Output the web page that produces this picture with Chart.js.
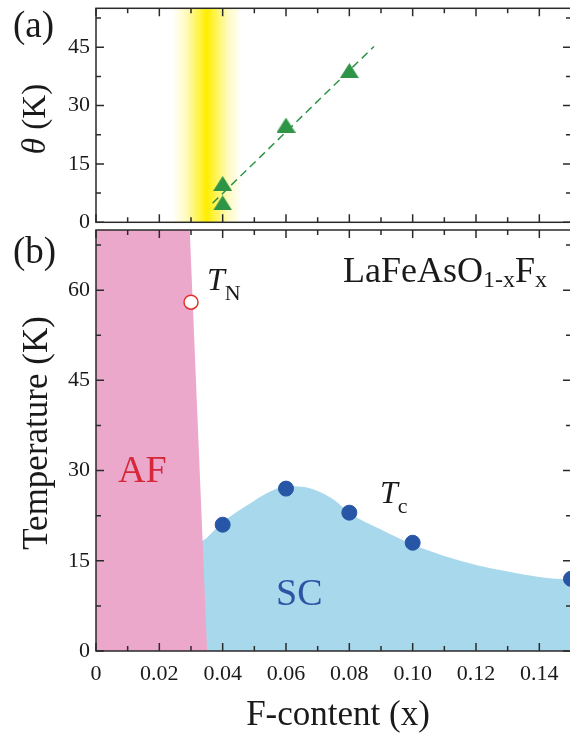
<!DOCTYPE html>
<html>
<head>
<meta charset="utf-8">
<script src="https://cdn.jsdelivr.net/npm/chart.js@4.4.1/dist/chart.umd.min.js"></script>
<style>
  html, body { margin: 0; padding: 0; background: #fff; overflow: hidden; }
  #wrap { position: relative; width: 570px; height: 736px; overflow: hidden; }
  #thetaChart { position: absolute; left: 0; top: 0; }
  #phaseChart { position: absolute; left: 0; top: 226px; }
</style>
</head>
<body>
<div id="wrap">
  <canvas id="thetaChart" width="574" height="236"></canvas>
  <canvas id="phaseChart" width="574" height="510"></canvas>
</div>
<script>
// ---- data ----
// (a) Weiss temperature theta vs F content
const thetaX = [0.04, 0.04, 0.06, 0.08];
const thetaValues = [10, 5, 25, 39];
const thetaFitX = [0.0368, 0.0878];
const thetaFitY = [4.9, 45.2];
const bandCenter = 0.035;
const bandHalfWidth = 0.011;

// (b) phase diagram
const tcX = [0.04, 0.06, 0.08, 0.10, 0.15];
const tcValues = [21, 27, 23, 18, 12];
const tnX = [0.03];
const tnValues = [58];
const afEdgeX = [0, 0.0296, 0.0351];
const afEdgeT = [70, 70, 0];
const scEdgeX = [0.033, 0.0342, 0.04, 0.045, 0.05, 0.055, 0.06, 0.065, 0.07, 0.075, 0.08, 0.09, 0.10, 0.11, 0.12, 0.13, 0.14, 0.145, 0.15];
const scEdgeT = [18.2, 18.5, 21.4, 23.3, 25.0, 26.5, 27.4, 27.3, 26.6, 25.2, 23.0, 20.2, 17.7, 15.8, 14.3, 13.2, 12.3, 12.0, 11.9];

// ticks
const xMajorTicks = [0, 0.02, 0.04, 0.06, 0.08, 0.10, 0.12, 0.14];
const xMinorTicks = [0.01, 0.03, 0.05, 0.07, 0.09, 0.11, 0.13];
const thetaMajorTicks = [0, 15, 30, 45];
const thetaMinorTicks = [7.5, 22.5, 37.5, 52.5];
const tempMajorTicks = [0, 15, 30, 45, 60];
const tempMinorTicks = [7.5, 22.5, 37.5, 52.5, 67.5];

const SERIF = '"Liberation Serif", "DejaVu Serif", serif';
const GREEN = '#2e9446';
const DOT_BLUE = '#2756a6';

function xy(xs, ys) {
  return xs.map((x, i) => ({ x: x, y: ys[i] }));
}

// green triangle marker
const tri = document.createElement('canvas');
tri.width = 19; tri.height = 15;
(function () {
  const c = tri.getContext('2d');
  c.fillStyle = GREEN;
  c.beginPath();
  c.moveTo(9.5, 0); c.lineTo(19, 15); c.lineTo(0, 15);
  c.closePath();
  c.fill();
})();

// draw text runs one after another on a baseline
function runs(ctx, x, y, parts) {
  let cx = x;
  parts.forEach(p => {
    ctx.font = p.font;
    ctx.fillStyle = p.color || '#1a1a1a';
    ctx.fillText(p.text, cx, y + (p.dy || 0));
    cx += ctx.measureText(p.text).width;
  });
}
function runsWidth(ctx, parts) {
  let w = 0;
  parts.forEach(p => { ctx.font = p.font; w += ctx.measureText(p.text).width; });
  return w;
}
function rotatedRuns(ctx, bx, cy, parts) {
  ctx.save();
  ctx.translate(bx, cy);
  ctx.rotate(-Math.PI / 2);
  runs(ctx, -runsWidth(ctx, parts) / 2, 0, parts);
  ctx.restore();
}

// fixed axis sizes, no extra label padding
const fixY = s => { s.width = 96; s.paddingTop = 0; s.paddingBottom = 0; };
const fixX = h => s => { s.height = h; s.paddingLeft = 0; s.paddingRight = 0; };

// box frame with inward ticks on all four sides
const framePlugin = {
  id: 'frame',
  afterDatasetsDraw(chart, args, opts) {
    const { ctx, chartArea: a, scales } = chart;
    const x = scales.x, y = scales.y;
    ctx.save();
    ctx.strokeStyle = '#2a2a2a';
    ctx.lineWidth = 1.5;
    ctx.beginPath();
    const xt = (vals, len) => vals.forEach(v => {
      const p = x.getPixelForValue(v);
      ctx.moveTo(p, a.bottom); ctx.lineTo(p, a.bottom - len);
      ctx.moveTo(p, a.top); ctx.lineTo(p, a.top + len);
    });
    const yt = (vals, len) => vals.forEach(v => {
      const p = y.getPixelForValue(v);
      ctx.moveTo(a.left, p); ctx.lineTo(a.left + len, p);
      ctx.moveTo(a.right, p); ctx.lineTo(a.right - len, p);
    });
    xt(xMajorTicks, 8); xt(xMinorTicks, 5);
    yt(opts.major, 8); yt(opts.minor, 5);
    ctx.stroke();
    ctx.strokeRect(a.left, a.top, a.width, a.height);
    ctx.restore();
  }
};

// yellow band in panel (a)
const bandPlugin = {
  id: 'band',
  beforeDatasetsDraw(chart) {
    const { ctx, chartArea: a, scales: { x } } = chart;
    const x0 = x.getPixelForValue(bandCenter - bandHalfWidth);
    const x1 = x.getPixelForValue(bandCenter + bandHalfWidth);
    const g = ctx.createLinearGradient(x0, 0, x1, 0);
    g.addColorStop(0, 'rgba(255,238,0,0)');
    g.addColorStop(0.2, 'rgba(255,238,0,0.25)');
    g.addColorStop(0.38, 'rgba(255,238,0,0.7)');
    g.addColorStop(0.5, 'rgba(255,238,0,1)');
    g.addColorStop(0.62, 'rgba(255,238,0,0.7)');
    g.addColorStop(0.8, 'rgba(255,238,0,0.25)');
    g.addColorStop(1, 'rgba(255,238,0,0)');
    ctx.save();
    ctx.fillStyle = g;
    ctx.fillRect(x0, a.top, x1 - x0, a.height);
    ctx.restore();
  }
};

const thetaText = {
  id: 'thetaText',
  afterDraw(chart) {
    const ctx = chart.ctx;
    ctx.save();
    ctx.textBaseline = 'alphabetic';
    runs(ctx, 13, 37, [{ text: '(a)', font: '37px ' + SERIF }]);
    rotatedRuns(ctx, 45, 119, [
      { text: 'θ', font: 'italic 33px ' + SERIF },
      { text: ' (K)', font: '33px ' + SERIF }
    ]);
    ctx.restore();
  }
};

const phaseText = {
  id: 'phaseText',
  afterDraw(chart) {
    const ctx = chart.ctx;
    ctx.save();
    ctx.textBaseline = 'alphabetic';
    runs(ctx, 13, 37, [{ text: '(b)', font: '37px ' + SERIF }]);
    rotatedRuns(ctx, 46.5, 207, [{ text: 'Temperature (K)', font: '35px ' + SERIF }]);
    const fw = runsWidth(ctx, [{ text: 'F-content (x)', font: '35px ' + SERIF }]);
    runs(ctx, 338 - fw / 2, 499, [{ text: 'F-content (x)', font: '35px ' + SERIF }]);
    runs(ctx, 343, 56, [
      { text: 'LaFeAsO', font: '36px ' + SERIF },
      { text: '1-x', font: '24px ' + SERIF, dy: 5 },
      { text: 'F', font: '36px ' + SERIF },
      { text: 'x', font: '24px ' + SERIF, dy: 5 }
    ]);
    runs(ctx, 207, 64, [
      { text: 'T', font: 'italic 32px ' + SERIF },
      { text: 'N', font: '22px ' + SERIF, dy: 10 }
    ]);
    runs(ctx, 380, 277, [
      { text: 'T', font: 'italic 32px ' + SERIF },
      { text: 'c', font: '22px ' + SERIF, dy: 10 }
    ]);
    runs(ctx, 118, 256, [{ text: 'AF', font: '38px ' + SERIF, color: '#d62839' }]);
    runs(ctx, 276, 379, [{ text: 'SC', font: '38px ' + SERIF, color: '#2b55a3' }]);
    ctx.restore();
  }
};

const tickFont = { family: SERIF, size: 22 };

// Panel (a)
new Chart(document.getElementById('thetaChart').getContext('2d'), {
  type: 'scatter',
  data: {
    datasets: [{
      data: xy(thetaX, thetaValues),
      pointStyle: tri,
      pointRadius: 9,
      order: 0
    }, {
      data: xy(thetaFitX, thetaFitY),
      showLine: true,
      borderColor: GREEN,
      borderWidth: 1.5,
      borderDash: [8, 5],
      pointRadius: 0,
      order: 1
    }]
  },
  options: {
    responsive: false,
    animation: false,
    layout: { autoPadding: false, padding: { top: 8.3, bottom: 13.7, left: 0, right: 3 } },
    plugins: {
      legend: { display: false },
      tooltip: { enabled: false },
      frame: { major: thetaMajorTicks, minor: thetaMinorTicks }
    },
    scales: {
      x: { type: 'linear', min: 0, max: 0.15, display: false },
      y: {
        min: 0, max: 55,
        grid: { display: false, drawTicks: false },
        border: { display: false },
        afterBuildTicks: s => { s.ticks = thetaMajorTicks.map(v => ({ value: v })); },
        afterFit: fixY,
        ticks: { font: tickFont, color: '#1a1a1a', padding: 6 }
      }
    }
  },
  plugins: [bandPlugin, framePlugin, thetaText]
});

// Panel (b)
new Chart(document.getElementById('phaseChart').getContext('2d'), {
  type: 'scatter',
  data: {
    datasets: [{
      data: xy(tcX, tcValues),
      pointStyle: 'circle',
      pointRadius: 7.5,
      pointBackgroundColor: DOT_BLUE,
      pointBorderColor: DOT_BLUE,
      pointBorderWidth: 1,
      order: 0
    }, {
      data: xy(tnX, tnValues),
      pointStyle: 'circle',
      pointRadius: 7,
      pointBackgroundColor: '#ffffff',
      pointBorderColor: '#e5302d',
      pointBorderWidth: 1.5,
      order: 0
    }, {
      data: xy(afEdgeX, afEdgeT),
      showLine: true,
      borderWidth: 0,
      pointRadius: 0,
      fill: 'origin',
      backgroundColor: '#eba8cb',
      order: 1
    }, {
      data: xy(scEdgeX, scEdgeT),
      showLine: true,
      borderWidth: 0,
      pointRadius: 0,
      cubicInterpolationMode: 'monotone',
      fill: 'origin',
      backgroundColor: '#a8d8ec',
      order: 2
    }]
  },
  options: {
    responsive: false,
    animation: false,
    layout: { autoPadding: false, padding: { top: 4, bottom: 0, left: 0, right: 3 } },
    plugins: {
      legend: { display: false },
      tooltip: { enabled: false },
      frame: { major: tempMajorTicks, minor: tempMinorTicks }
    },
    scales: {
      x: {
        type: 'linear', min: 0, max: 0.15,
        grid: { display: false, drawTicks: false },
        border: { display: false },
        afterBuildTicks: s => { s.ticks = xMajorTicks.map(v => ({ value: v })); },
        afterFit: fixX(85),
        ticks: {
          font: tickFont, color: '#1a1a1a', padding: 10,
          maxRotation: 0, autoSkip: false,
          callback: v => v === 0 ? '0' : v.toFixed(2)
        }
      },
      y: {
        min: 0, max: 70,
        grid: { display: false, drawTicks: false },
        border: { display: false },
        afterBuildTicks: s => { s.ticks = tempMajorTicks.map(v => ({ value: v })); },
        afterFit: fixY,
        ticks: { font: tickFont, color: '#1a1a1a', padding: 6 }
      }
    }
  },
  plugins: [framePlugin, phaseText]
});
</script>
</body>
</html>
